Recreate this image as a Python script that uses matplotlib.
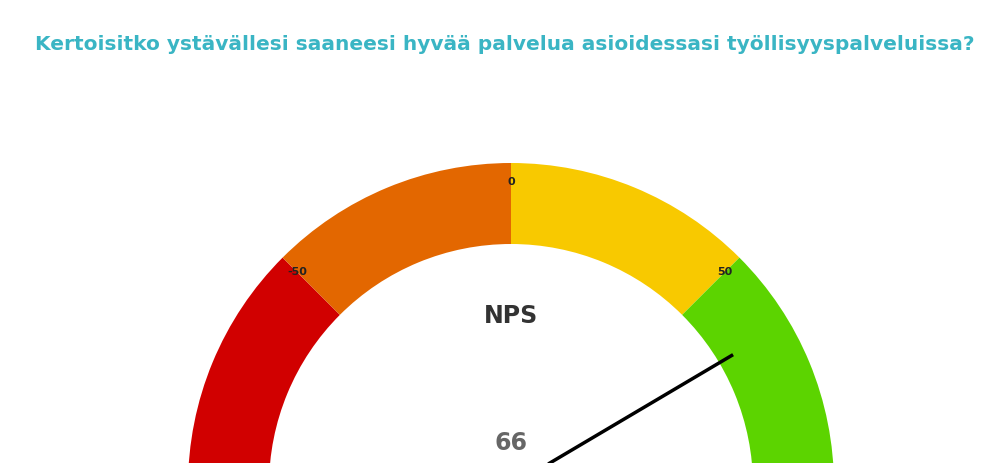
import matplotlib
matplotlib.use("Agg")
import matplotlib.pyplot as plt
from matplotlib.patches import Wedge
import numpy as np

title = "Kertoisitko ystävällesi saaneesi hyvää palvelua asioidessasi työllisyyspalveluissa?"
band_edges = [-100, -50, 0, 50, 100]
band_colors = ["#d10000", "#e36700", "#f8c900", "#5cd400"]
tick_values = [-50, 0, 50]
nps_value = 66

fig = plt.figure(figsize=(9.95, 4.63), dpi=100)
ax = fig.add_axes([0, 0, 1, 1])
ax.set_xlim(0, 995)
ax.set_ylim(0, 463)
ax.axis("off")

cx, cy = 511, 463 - 486
r_out, r_in = 323, 242

def ang(v):
    return 90 - v * 0.9

for i, c in enumerate(band_colors):
    a1, a2 = ang(band_edges[i + 1]), ang(band_edges[i])
    ax.add_patch(Wedge((cx, cy), r_out, a1, a2, width=r_out - r_in, facecolor=c, edgecolor="none"))

for t in tick_values:
    a = np.radians(ang(t))
    r = 304 if t == 0 else 302
    x, y = cx + r * np.cos(a), cy + r * np.sin(a)
    ax.text(x, y, str(t), ha="center", va="center", fontsize=8, fontweight="bold", color="#222222")

a = np.radians(ang(nps_value))
ax.plot([cx, cx + 258 * np.cos(a)], [cy, cy + 258 * np.sin(a)], color="black", lw=2.5, solid_capstyle="butt")

ax.text(511, 463 - 316, "NPS", ha="center", va="center", fontsize=17, fontweight="bold", color="#333333")
ax.text(511, 463 - 443, str(nps_value), ha="center", va="center", fontsize=17, fontweight="bold", color="#666666")
ax.text(505, 463 - 45, title, ha="center", va="center", fontsize=14.5, fontweight="bold", color="#3ab5c4")

fig.savefig("out.png", dpi=100)
